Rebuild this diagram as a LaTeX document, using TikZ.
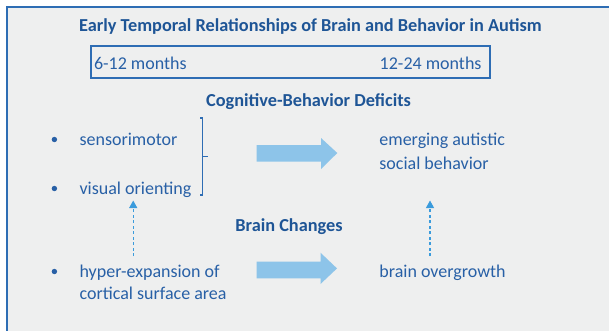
\documentclass[tikz,border=0pt]{standalone}
\usepackage{fontspec}
\setmainfont{Carlito}
\usetikzlibrary{arrows.meta}
\definecolor{framec}{HTML}{2E6DB4}
\definecolor{bgc}{HTML}{EEEFEF}
\definecolor{titlec}{HTML}{1E5596}
\definecolor{txtc}{HTML}{2860A6}
\definecolor{bigarr}{HTML}{8DC4E9}
\definecolor{dasharr}{HTML}{3A9BDC}
\tikzset{
  lbl/.style={inner sep=0pt, outer sep=0pt, text=txtc, font=\fontsize{18}{22}\selectfont},
  hdr/.style={lbl, text=titlec, font=\fontsize{18.3}{22}\selectfont\bfseries},
  bul/.style={circle, fill=txtc, inner sep=0pt, minimum size=5.4pt},
  bigarrow/.style={fill=bigarr, draw=none},
  dasharrow/.style={draw=dasharr, line width=1.1pt, dash pattern=on 3pt off 2.5pt, -{Triangle[width=8pt,length=7.5pt]}},
  brk/.style={draw=framec, line width=1.3pt},
}
\begin{document}
\begin{tikzpicture}[x=1pt,y=-1pt]
\useasboundingbox (0,0) rectangle (609,330);
% frame
\draw[framec, line width=2pt, fill=bgc] (7,7) rectangle (640,360);
% title
\node[hdr, anchor=base] (title) at (310.4,31.5) {Early Temporal Relationships of Brain and Behavior in Autism};
% months box
\draw[framec, line width=2pt] (90.5,45.7) rectangle (490,78);
\node[lbl, anchor=base west] (m1) at (94,69) {6-12 months};
\node[lbl, anchor=base east] (m2) at (481.5,69) {12-24 months};
% Cognitive
\node[hdr, anchor=base] (cog) at (308.5,106) {Cognitive-Behavior Deficits};
% bullets
\node[bul] (b1) at (54.4,139.5) {};
\node[bul] (b2) at (54.4,188.5) {};
\node[bul] (b3) at (54.4,271.5) {};
\node[lbl, anchor=base west] (sens) at (79.6,145.5) {sensorimotor};
\node[lbl, anchor=base west] (vis) at (79.6,194.5) {visual orienting};
\node[lbl, anchor=base west] (emer) at (379.4,145.5) {emerging autistic};
\node[lbl, anchor=base west] (soc) at (379.4,169.5) {social behavior};
% bracket
\draw[brk] (200,118) -- (202.7,118) -- (202.7,195) -- (200,195);
\draw[brk] (202.7,156.7) -- (208,156.7);
% big arrows
\fill[bigarrow] (256.5,145) -- (321,145) -- (321,138) -- (337.3,153) -- (321,169) -- (321,161.7) -- (256.5,161.7) -- cycle;
\fill[bigarrow] (256.5,261.7) -- (320.5,261.7) -- (320.5,252.7) -- (337,268.4) -- (320.5,284) -- (320.5,278.3) -- (256.5,278.3) -- cycle;
% brain changes
\node[hdr, anchor=base] (brain) at (289,231) {Brain Changes};
\node[lbl, anchor=base west] (hyp) at (79.6,277.5) {hyper-expansion of};
\node[lbl, anchor=base west] (cort) at (79.6,299.5) {cortical surface area};
\node[lbl, anchor=base west] (over) at (379.4,277.5) {brain overgrowth};
% dashed arrows
\coordinate (d1s) at (133.2,256);
\coordinate (d1e) at (133.2,200.5);
\coordinate (d2s) at (430,256);
\coordinate (d2e) at (430,200.5);
\draw[dasharrow] (d1s) -- (d1e);
\draw[dasharrow] (d2s) -- (d2e);
\end{tikzpicture}
\end{document}
